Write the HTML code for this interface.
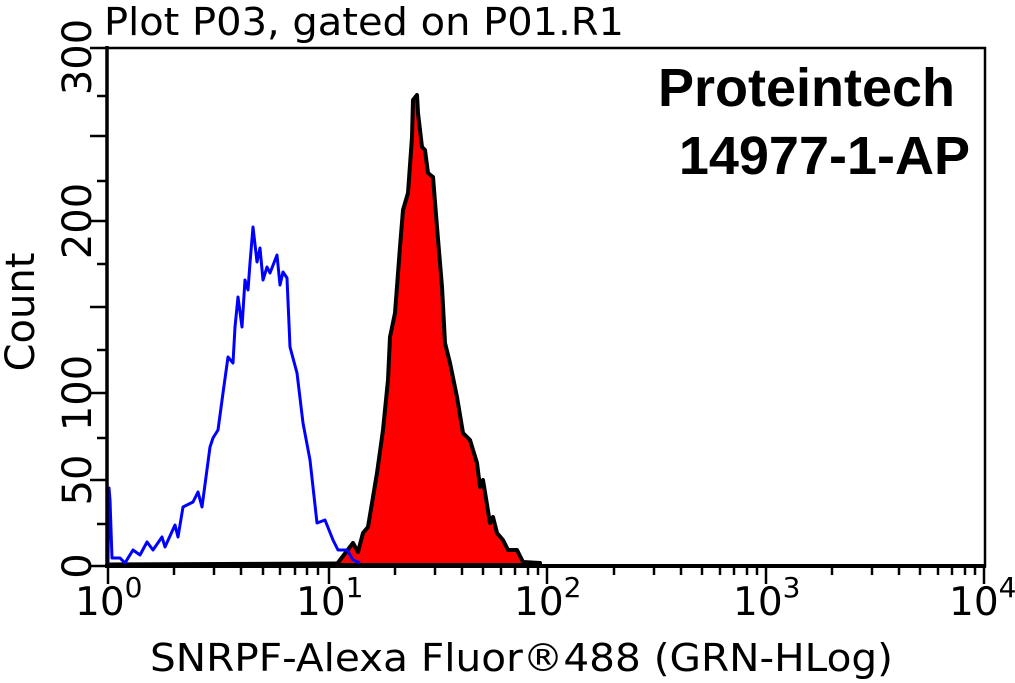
<!DOCTYPE html>
<html><head><meta charset="utf-8"><style>
html,body{margin:0;padding:0;background:#fff;}
svg{display:block;font-family:"DejaVu Sans","Liberation Sans",sans-serif;}
</style></head><body>
<svg width="1015" height="683" viewBox="0 0 1015 683" xmlns="http://www.w3.org/2000/svg">
<rect width="1015" height="683" fill="#fff"/>
<text x="104" y="35" font-size="38" textLength="520" lengthAdjust="spacingAndGlyphs">Plot P03, gated on P01.R1</text>
<text x="955" y="106" font-size="54" font-weight="bold" text-anchor="end" font-family="Liberation Sans, sans-serif">Proteintech</text>
<text x="970" y="174" font-size="54" font-weight="bold" text-anchor="end" font-family="Liberation Sans, sans-serif">14977-1-AP</text>

<path d="M108,564 L337,563" stroke="#000" stroke-width="3" fill="none"/>
<path d="M337,564 L353,543 L358,552 L363,533 L368,527 L377,473 L383,430 L388,380 L390,337 L395,313 L400,247 L403,210 L408,193 L412,137 L413,100 L417,95 L418,113 L422,147 L425,150 L428,173 L433,177 L437,227 L442,287 L445,343 L450,363 L457,397 L463,433 L470,440 L477,463 L480,487 L483,480 L490,523 L493,517 L497,533 L503,540 L508,550 L517,550 L523,562 L540,563 L540,565 L337,565 Z" fill="#ff0000" stroke="#000" stroke-width="4" stroke-linejoin="round"/>

<polyline fill="none" stroke="#0000ff" stroke-width="3" stroke-linejoin="round" points="108,564 109,488 110,500 112,558 120,558 125,563 133,550 140,555 147,542 153,550 162,537 165,547 175,525 178,537 183,507 193,502 198,492 202,507 210,447 213,438 218,430 223,393 228,357 233,363 235,327 238,297 242,327 245,280 248,290 250,263 253,227 257,262 260,248 263,280 267,267 270,273 277,255 280,285 283,272 287,278 290,347 297,373 303,423 310,460 317,523 325,520 333,540 338,550 347,550 353,560 360,563"/>

<rect x="107" y="48" width="878" height="518" fill="none" stroke="#000" stroke-width="2.5"/>
<line x1="105" y1="566" x2="986" y2="566" stroke="#000" stroke-width="4"/>
<line x1="107" y1="46" x2="107" y2="568" stroke="#000" stroke-width="3.5"/>

<g stroke="#000" stroke-width="2.5">
<line x1="90" y1="48" x2="107" y2="48"/>
<line x1="97" y1="96" x2="107" y2="96"/>
<line x1="90" y1="136" x2="107" y2="136"/>
<line x1="97" y1="181" x2="107" y2="181"/>
<line x1="90" y1="221" x2="107" y2="221"/>
<line x1="97" y1="264" x2="107" y2="264"/>
<line x1="90" y1="307" x2="107" y2="307"/>
<line x1="97" y1="350" x2="107" y2="350"/>
<line x1="90" y1="393" x2="107" y2="393"/>
<line x1="97" y1="438" x2="107" y2="438"/>
<line x1="90" y1="480" x2="107" y2="480"/>
<line x1="97" y1="524" x2="107" y2="524"/>
<line x1="90" y1="566" x2="107" y2="566"/>
</g>
<g font-size="40" text-anchor="middle">
<text transform="translate(91,566) rotate(-90)">0</text>
<text transform="translate(91,480) rotate(-90)">50</text>
<text transform="translate(91,393) rotate(-90)">100</text>
<text transform="translate(91,221) rotate(-90)">200</text>
<text transform="translate(91,57) rotate(-90)">300</text>
<text transform="translate(34,312) rotate(-90)">Count</text>
</g>

<g stroke="#000" stroke-width="2.5">
<line x1="108" y1="566" x2="108" y2="584"/>
<line x1="329" y1="566" x2="329" y2="584"/>
<line x1="547" y1="566" x2="547" y2="584"/>
<line x1="766" y1="566" x2="766" y2="584"/>
<line x1="984" y1="566" x2="984" y2="584"/>
<path d="M174,566v9M214,566v9M241,566v9M263,566v9M280,566v9M295,566v9M307,566v9M318,566v9
M395,566v9M435,566v9M462,566v9M483,566v9M501,566v9M515,566v9M528,566v9M538,566v9
M614,566v9M654,566v9M681,566v9M702,566v9M720,566v9M734,566v9M747,566v9M757,566v9
M832,566v9M872,566v9M899,566v9M920,566v9M938,566v9M952,566v9M965,566v9M975,566v9"/>
</g>
<g font-size="39">
<text x="75" y="615">10<tspan dy="-18" font-size="28">0</tspan></text>
<text x="296" y="615">10<tspan dy="-18" font-size="28">1</tspan></text>
<text x="514" y="615">10<tspan dy="-18" font-size="28">2</tspan></text>
<text x="733" y="615">10<tspan dy="-18" font-size="28">3</tspan></text>
<text x="949" y="615">10<tspan dy="-18" font-size="28">4</tspan></text>
</g>
<text x="150" y="671" font-size="38" textLength="743" lengthAdjust="spacingAndGlyphs">SNRPF-Alexa Fluor®488 (GRN-HLog)</text>
</svg>
</body></html>
